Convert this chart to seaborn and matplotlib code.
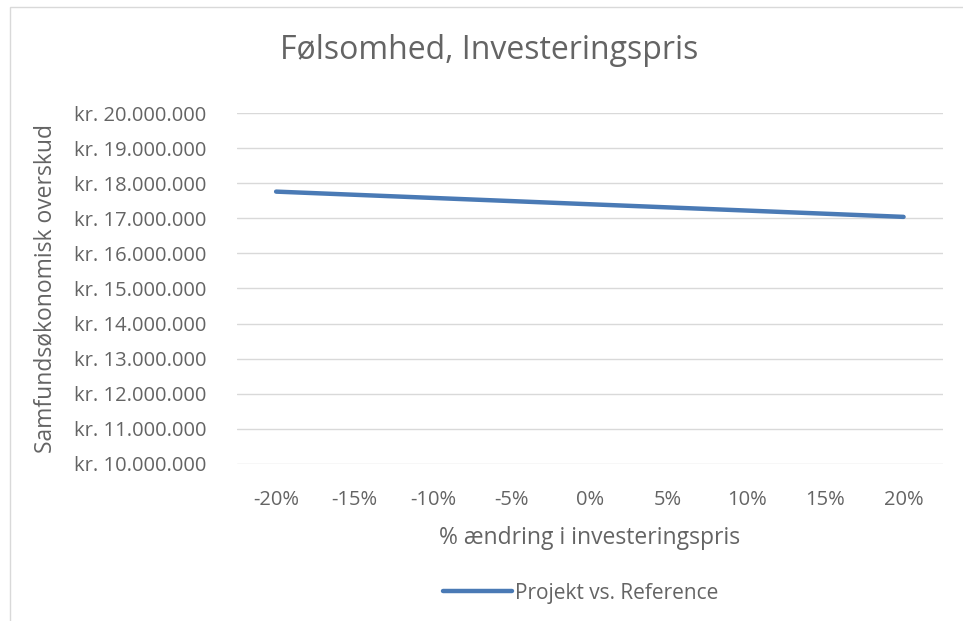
import pandas as pd
import matplotlib.pyplot as plt
import seaborn as sns
from matplotlib.ticker import FuncFormatter
from matplotlib.patches import Rectangle

# -------------------------
# Data
# -------------------------
changes = ["-20%", "-15%", "-10%", "-5%", "0%", "5%", "10%", "15%", "20%"]
surplus = [17760000, 17670000, 17580000, 17490000, 17400000,
           17310000, 17220000, 17130000, 17040000]
series_name = "Projekt vs. Reference"
y_ticks = list(range(10000000, 20000001, 1000000))

df = pd.DataFrame({"change": changes, "surplus": surplus, "series": series_name})

# -------------------------
# Style
# -------------------------
sns.set_theme(style="white")
plt.rcParams["font.family"] = ["Open Sans", "DejaVu Sans"]
text_color = "#646464"

fig = plt.figure(figsize=(9.63, 6.21), dpi=100)
ax = fig.add_axes([0.246, 0.253, 0.733, 0.565])

sns.lineplot(data=df, x="change", y="surplus", hue="series",
             palette=["#4a7ab5"], linewidth=3.2, ax=ax, sort=False)

ax.set_xlim(-0.5, len(changes) - 0.5)
ax.set_ylim(y_ticks[0], y_ticks[-1])
ax.set_yticks(y_ticks)
ax.yaxis.set_major_formatter(
    FuncFormatter(lambda v, p: "kr. " + f"{int(v):,}".replace(",", ".")))
ax.grid(axis="y", color="#d9d9d9", linewidth=1)
ax.set_axisbelow(True)
for s in ax.spines.values():
    s.set_visible(False)
ax.tick_params(axis="both", length=0, colors=text_color, labelsize=14.5)
ax.tick_params(axis="x", pad=18.5)
ax.tick_params(axis="y", pad=22)

ax.set_xlabel("% ændring i investeringspris", fontsize=16.5, color=text_color, labelpad=11.5)
ax.set_ylabel("Samfundsøkonomisk overskud", fontsize=16.5, color=text_color, labelpad=12)
fig.text(0.508, 0.918, "Følsomhed, Investeringspris", fontsize=23,
         color=text_color, ha="center", va="center")

ax.get_legend().remove()
handles, labels = ax.get_legend_handles_labels()
fig.legend(handles, labels, loc="center", bbox_to_anchor=(0.603, 0.045),
           frameon=False, fontsize=15, labelcolor=text_color,
           handlelength=3.3, handletextpad=0.15)

# chart border
fig.patches.append(Rectangle((0.010, -0.01), 1.0, 0.999, transform=fig.transFigure,
                             fill=False, edgecolor="#d9d9d9", linewidth=1))

fig.savefig("out.png", dpi=100)
